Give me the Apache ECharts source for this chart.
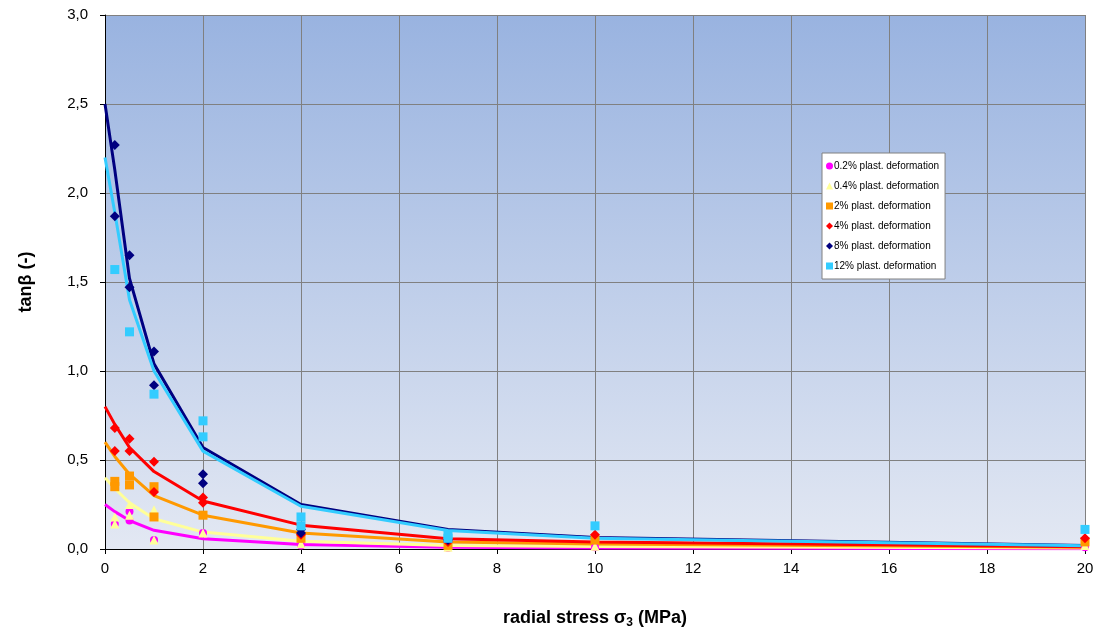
<!DOCTYPE html>
<html>
<head>
<meta charset="utf-8">
<script src="https://cdn.jsdelivr.net/npm/echarts@6/dist/echarts.min.js"></script>
<style>html,body{margin:0;padding:0;background:#fff}#c{width:1101px;height:630px}</style>
</head>
<body>
<div id="c"></div>
<script>
// ---- data ----
const seriesNames = ['0.2% plast. deformation','0.4% plast. deformation','2% plast. deformation','4% plast. deformation','8% plast. deformation','12% plast. deformation'];
const yTicks = [0, 0.5, 1, 1.5, 2, 2.5, 3];
const xTicks = [0, 2, 4, 6, 8, 10, 12, 14, 16, 18, 20];

// measured points [sigma3, tanBeta]
const pts02 = [[0.2,0.14],[0.5,0.21],[0.5,0.16],[1,0.05],[2,0.09],[4,0.02],[7,0.005],[10,0.01],[20,0.01]];
const pts04 = [[0.2,0.18],[0.2,0.14],[0.5,0.25],[0.5,0.19],[1,0.22],[1,0.05],[2,0.09],[4,0.03],[7,0.01],[10,0.015],[20,0.02]];
const pts2  = [[0.2,0.38],[0.2,0.35],[0.5,0.41],[0.5,0.36],[1,0.35],[1,0.18],[2,0.19],[4,0.06],[7,0.02],[10,0.05],[20,0.04]];
const pts4  = [[0.2,0.68],[0.2,0.55],[0.5,0.62],[0.5,0.55],[1,0.49],[1,0.32],[2,0.29],[2,0.26],[4,0.08],[7,0.04],[10,0.08],[20,0.06]];
const pts8  = [[0.2,2.27],[0.2,1.87],[0.5,1.65],[0.5,1.47],[1,1.11],[1,0.92],[2,0.42],[2,0.37],[4,0.11],[4,0.09],[7,0.05]];
const pts12 = [[0.2,1.57],[0.5,1.22],[1,0.87],[2,0.72],[2,0.63],[4,0.18],[4,0.13],[7,0.08],[7,0.06],[10,0.13],[20,0.11]];

// trend lines evaluated at these sigma3 values
const trendX = [0, 0.2, 0.5, 1, 2, 4, 7, 10, 20];
const trend02 = [0.25, 0.21, 0.16, 0.105, 0.058, 0.025, 0.01, 0.006, 0.002];
const trend04 = [0.40, 0.34, 0.26, 0.17, 0.095, 0.044, 0.02, 0.014, 0.005];
const trend2  = [0.60, 0.52, 0.42, 0.30, 0.19, 0.09, 0.04, 0.028, 0.01];
const trend4  = [0.80, 0.70, 0.57, 0.435, 0.27, 0.134, 0.058, 0.04, 0.012];
const trend8  = [2.50, 2.13, 1.52, 1.04, 0.57, 0.25, 0.11, 0.065, 0.02];
const trend12 = [2.20, 1.89, 1.40, 1.00, 0.55, 0.24, 0.104, 0.06, 0.018];

const colors = ['#FF00FF','#FFFF99','#FF9900','#FF0000','#000080','#33CCFF'];
const symbols = ['circle','triangle','rect','diamond','diamond','rect'];
const symSizes = [8,9,9,10,10,9];
const pts = [pts02, pts04, pts2, pts4, pts8, pts12];
const trends = [trend02, trend04, trend2, trend4, trend8, trend12];

const series = [];
trends.forEach((t, i) => {
  series.push({
    type: 'line', name: 'trend' + i, z: 2,
    data: trendX.map((x, k) => [x, t[k]]),
    showSymbol: false, symbol: 'none',
    lineStyle: { color: colors[i], width: 3 },
    itemStyle: { color: colors[i] },
    silent: true
  });
});
pts.forEach((p, i) => {
  series.push({
    type: 'scatter', name: seriesNames[i], z: 3,
    data: p, symbol: symbols[i], symbolSize: symSizes[i],
    itemStyle: { color: colors[i], opacity: 1 }
  });
});

const chart = echarts.init(document.getElementById('c'), null, { renderer: 'canvas' });
chart.setOption({
  animation: false,
  textStyle: { fontFamily: 'Liberation Sans, Arial, sans-serif' },
  grid: {
    left: 105, right: 16, top: 15, bottom: 81,
    outerBoundsMode: 'none', containLabel: false,
    show: true, borderWidth: 0,
    backgroundColor: new echarts.graphic.LinearGradient(0, 0, 0, 1, [
      { offset: 0, color: '#99B3E0' },
      { offset: 1, color: '#E3E8F3' }
    ])
  },
  legend: {
    data: seriesNames.map((n, i) => ({ name: n, icon: symbols[i] })),
    orient: 'vertical', left: 822, top: 153,
    backgroundColor: '#ffffff', borderColor: '#808080', borderWidth: 1,
    padding: [7, 6, 7, 4], itemGap: 8, itemWidth: 7, itemHeight: 7,
    textStyle: { fontSize: 10, color: '#000', lineHeight: 12, padding: [0, 0, 0, -4] }
  },
  xAxis: {
    type: 'value', min: 0, max: 20, interval: 2,
    name: '{a|radial stress σ}{s|3}{a| (MPa)}',
    nameLocation: 'middle', nameGap: 58,
    nameTextStyle: {
      rich: {
        a: { fontSize: 18, fontWeight: 'bold', color: '#000', fontFamily: 'Liberation Sans, Arial' },
        s: { fontSize: 12, fontWeight: 'bold', color: '#000', fontFamily: 'Liberation Sans, Arial', padding: [10, 0, 0, 0] }
      }
    },
    axisLine: { onZero: false, lineStyle: { color: '#000', width: 1 } },
    axisTick: { show: true, length: 5, lineStyle: { color: '#000' } },
    axisLabel: { fontSize: 15, color: '#000', margin: 12 },
    splitLine: { show: true, lineStyle: { color: '#808080', width: 1 } }
  },
  yAxis: {
    type: 'value', min: 0, max: 3, interval: 0.5,
    name: 'tanβ (-)', nameLocation: 'middle', nameGap: 70, nameRotate: 90,
    nameTextStyle: { fontSize: 18, fontWeight: 'bold', color: '#000' },
    axisLine: { show: true, lineStyle: { color: '#000', width: 1 } },
    axisTick: { show: true, length: 5, lineStyle: { color: '#000' } },
    axisLabel: { fontSize: 15, color: '#000', margin: 17,
      formatter: v => v.toFixed(1).replace('.', ',') },
    splitLine: { show: true, lineStyle: { color: '#808080', width: 1 } }
  },
  series: series
});
</script>
</body>
</html>
